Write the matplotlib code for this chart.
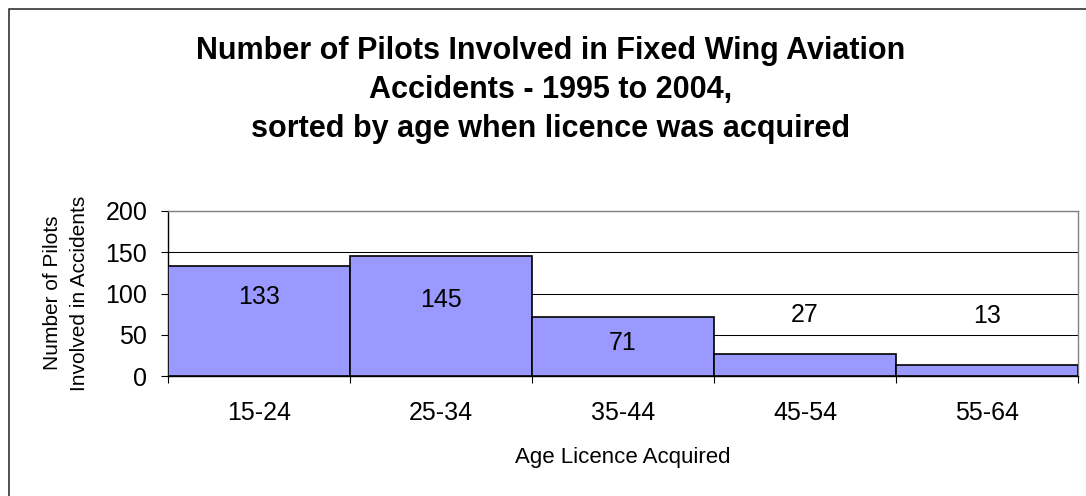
import matplotlib
matplotlib.use("Agg")
import matplotlib.pyplot as plt
import matplotlib.ticker as ticker
from matplotlib.patches import Rectangle

# ── data ──────────────────────────────────────────────────────────────────────
age_groups = ["15-24", "25-34", "35-44", "45-54", "55-64"]
pilots = [133, 145, 71, 27, 13]

# where Excel put the value labels (data units)
label_y = [96, 92, 40, 74, 73]

# ── figure ────────────────────────────────────────────────────────────────────
plt.rcParams.update({
    "font.family": ["Liberation Sans", "DejaVu Sans"],
    "axes.linewidth": 0.8,
})

fig = plt.figure(figsize=(10.86, 4.96), dpi=100)
ax = fig.add_axes([168 / 1086, 1 - 376 / 496, 910 / 1086, 165 / 496])

# outer chart frame (runs off the right and bottom edge)
fig.add_artist(Rectangle((9 / 1086, -0.1), 1.2, 1 - 9 / 496 + 0.1,
                         transform=fig.transFigure, fill=False,
                         edgecolor="#222222", linewidth=1.1))

x = range(len(pilots))
ax.bar(x, pilots, width=1.0, align="edge", color="#9999FF",
       edgecolor="black", linewidth=1.2, zorder=3)

for i, v in enumerate(pilots):
    ax.text(i + 0.5, label_y[i], str(v), ha="center", va="center",
            fontsize=18, zorder=4)

ax.set_xlim(0, len(pilots))
ax.set_ylim(0, 200)
ax.yaxis.set_major_locator(ticker.MultipleLocator(50))
ax.grid(axis="y", color="black", linewidth=0.75, zorder=0)

# category boundaries get the ticks, labels sit in between
ax.xaxis.set_major_locator(ticker.FixedLocator(range(len(pilots) + 1)))
ax.xaxis.set_major_formatter(ticker.NullFormatter())
ax.xaxis.set_minor_locator(ticker.FixedLocator([i + 0.5 for i in x]))
ax.xaxis.set_minor_formatter(ticker.FixedFormatter(age_groups))
ax.tick_params(axis="x", which="major", length=5, width=0.8, direction="out")
ax.tick_params(axis="x", which="minor", length=0, pad=18, labelsize=18)
ax.tick_params(axis="y", length=5, width=0.8, direction="out", pad=10,
               labelsize=18)

for side in ("top", "right"):
    ax.spines[side].set_color("#808080")
    ax.spines[side].set_linewidth(1.0)
for side in ("left", "bottom"):
    ax.spines[side].set_color("black")
    ax.spines[side].set_linewidth(1.0)

ax.set_xlabel("Age Licence Acquired", fontsize=16, va="center")
ax.xaxis.set_label_coords(0.5, (376 - 457) / 165)
ax.set_ylabel("Number of Pilots\nInvolved in Accidents", fontsize=15,
              va="center", linespacing=1.48)
ax.yaxis.set_label_coords((66 - 168) / 910, (376 - 293) / 165)

fig.text(551 / 1086, 1 - 90 / 496,
         "Number of Pilots Involved in Fixed Wing Aviation\n"
         "Accidents - 1995 to 2004,\n"
         "sorted by age when licence was acquired",
         ha="center", va="center", multialignment="center",
         fontsize=22, fontweight="bold", linespacing=1.39)

fig.savefig("out.png", dpi=100)
